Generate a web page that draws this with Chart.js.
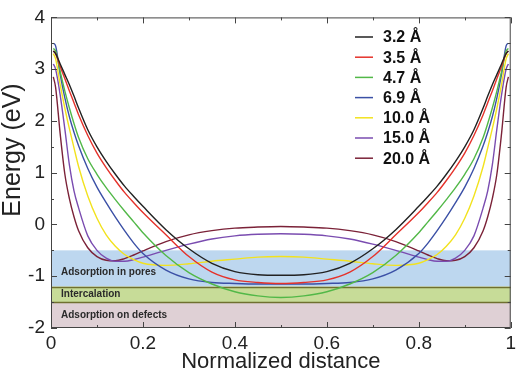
<!DOCTYPE html>
<html>
<head>
<meta charset="utf-8">
<script src="https://cdn.jsdelivr.net/npm/chart.js@4"></script>
<style>
  html, body { margin: 0; padding: 0; background: #fff; }
  #wrap { width: 520px; height: 373px; }
</style>
</head>
<body>
<div id="wrap"><canvas id="energia"></canvas></div>
<script>
// posiciones normalizadas
const xs = [0.005, 0.01, 0.02, 0.03, 0.04, 0.05, 0.06, 0.08, 0.10, 0.12, 0.14, 0.16, 0.18, 0.20, 0.25, 0.30, 0.35, 0.40, 0.45, 0.50,
            0.55, 0.60, 0.65, 0.70, 0.75, 0.80, 0.82, 0.84, 0.86, 0.88, 0.90, 0.92, 0.94, 0.95, 0.96, 0.97, 0.98, 0.99, 0.995];

const etiquetas = ['3.2 Å', '3.5 Å', '4.7 Å', '6.9 Å', '10.0 Å', '15.0 Å', '20.0 Å'];

const e32 = [3.35, 3.3, 3.1, 2.9, 2.7, 2.48, 2.25, 1.83, 1.5, 1.22, 0.97, 0.74, 0.54, 0.35, -0.1, -0.47, -0.75, -0.91, -0.97, -0.98,
             -0.97, -0.91, -0.75, -0.47, -0.1, 0.35, 0.54, 0.74, 0.97, 1.22, 1.5, 1.83, 2.25, 2.48, 2.7, 2.9, 3.1, 3.3, 3.35];
const e35 = [3.35, 3.3, 3.05, 2.82, 2.58, 2.35, 2.12, 1.72, 1.38, 1.1, 0.85, 0.62, 0.42, 0.23, -0.2, -0.62, -0.92, -1.07, -1.12, -1.14,
             -1.12, -1.07, -0.92, -0.62, -0.2, 0.23, 0.42, 0.62, 0.85, 1.1, 1.38, 1.72, 2.12, 2.35, 2.58, 2.82, 3.05, 3.3, 3.35];
const e47 = [3.4, 3.35, 2.95, 2.58, 2.25, 1.95, 1.68, 1.27, 0.97, 0.71, 0.48, 0.26, 0.05, -0.16, -0.6, -0.93, -1.15, -1.3, -1.38, -1.41,
             -1.38, -1.3, -1.15, -0.93, -0.6, -0.16, 0.05, 0.26, 0.48, 0.71, 0.97, 1.27, 1.68, 1.95, 2.25, 2.58, 2.95, 3.35, 3.4];
const e69 = [3.5, 3.45, 2.9, 2.45, 2.08, 1.78, 1.52, 1.08, 0.72, 0.42, 0.14, -0.12, -0.36, -0.56, -0.88, -1.05, -1.12, -1.14, -1.15, -1.15,
             -1.15, -1.14, -1.12, -1.05, -0.88, -0.56, -0.36, -0.12, 0.14, 0.42, 0.72, 1.08, 1.52, 1.78, 2.08, 2.45, 2.9, 3.45, 3.5];
const e100 = [3.3, 3.2, 2.7, 2.25, 1.85, 1.48, 1.12, 0.55, 0.12, -0.2, -0.42, -0.58, -0.68, -0.75, -0.79, -0.76, -0.71, -0.67, -0.63, -0.62,
              -0.63, -0.67, -0.71, -0.76, -0.79, -0.75, -0.68, -0.58, -0.42, -0.2, 0.12, 0.55, 1.12, 1.48, 1.85, 2.25, 2.7, 3.2, 3.3];
const e150 = [3.1, 3.0, 2.5, 1.85, 1.15, 0.65, 0.32, -0.22, -0.5, -0.65, -0.71, -0.71, -0.68, -0.63, -0.5, -0.38, -0.28, -0.22, -0.19, -0.18,
              -0.19, -0.22, -0.28, -0.38, -0.5, -0.63, -0.68, -0.71, -0.71, -0.65, -0.5, -0.22, 0.32, 0.65, 1.15, 1.85, 2.5, 3.0, 3.1];
const e200 = [2.85, 2.65, 1.75, 0.98, 0.5, 0.15, -0.12, -0.45, -0.62, -0.69, -0.7, -0.66, -0.59, -0.51, -0.33, -0.2, -0.12, -0.07, -0.05, -0.04,
              -0.05, -0.07, -0.12, -0.2, -0.33, -0.51, -0.59, -0.66, -0.7, -0.69, -0.62, -0.45, -0.12, 0.15, 0.5, 0.98, 1.75, 2.65, 2.85];

const colores = ['#222222', '#e5322b', '#52b848', '#3b50a6', '#f2e21e', '#7a4cb0', '#7b2238'];

// bandas de energía
const bandas = ['Adsorption in pores', 'Intercalation', 'Adsorption on defects'];
const bandaArriba = [-0.5, -1.2, -1.5];
const bandaAbajo = [-1.2, -1.5, -2];

const xTicks = [0, 0.2, 0.4, 0.6, 0.8, 1];
const yTicks = [-2, -1, 0, 1, 2, 3, 4];

const series = [e32, e35, e47, e69, e100, e150, e200];

const fuente = '"Liberation Sans", Arial, sans-serif';

const fondoBandas = {
  id: 'fondoBandas',
  beforeDatasetsDraw(chart) {
    const { ctx, chartArea, scales } = chart;
    const fills = ['#bdd7ef', '#c7dc98', '#dfd0d5'];
    ctx.save();
    bandas.forEach((b, i) => {
      const y1 = scales.y.getPixelForValue(bandaArriba[i]);
      const y2 = scales.y.getPixelForValue(bandaAbajo[i]);
      ctx.fillStyle = fills[i];
      ctx.fillRect(chartArea.left, y1, chartArea.right - chartArea.left, y2 - y1);
    });
    // lineas de la banda de intercalacion
    ctx.strokeStyle = '#6f7030';
    ctx.lineWidth = 1.5;
    [bandaArriba[1], bandaAbajo[1]].forEach(v => {
      const y = Math.round(scales.y.getPixelForValue(v)) + 0.5;
      ctx.beginPath();
      ctx.moveTo(chartArea.left, y);
      ctx.lineTo(chartArea.right, y);
      ctx.stroke();
    });
    ctx.fillStyle = '#2a2a2a';
    ctx.font = 'bold 10px ' + fuente;
    ctx.textBaseline = 'middle';
    bandas.forEach((b, i) => {
      let y;
      if (i === 0) y = scales.y.getPixelForValue(-0.93);
      else y = (scales.y.getPixelForValue(bandaArriba[i]) + scales.y.getPixelForValue(bandaAbajo[i])) / 2;
      ctx.fillText(b, chartArea.left + 10, y);
    });
    ctx.restore();
  },
  afterDraw(chart) {
    const { ctx, chartArea, scales } = chart;
    const { left, right, top, bottom } = chartArea;
    ctx.save();
    ctx.strokeStyle = '#444';
    ctx.lineWidth = 1;
    ctx.strokeRect(left + 0.5, top + 0.5, right - left - 1, bottom - top - 1);
    // marcas hacia dentro
    for (let k = 0; k <= 10; k++) {
      const px = Math.round(scales.x.getPixelForValue(k / 10)) + 0.5;
      const len = k % 2 === 0 ? 6 : 3;
      ctx.beginPath();
      ctx.moveTo(px, bottom); ctx.lineTo(px, bottom - len);
      ctx.moveTo(px, top); ctx.lineTo(px, top + len);
      ctx.stroke();
    }
    for (let k = -4; k <= 8; k++) {
      const py = Math.round(scales.y.getPixelForValue(k / 2)) + 0.5;
      const len = k % 2 === 0 ? 6 : 3;
      ctx.beginPath();
      ctx.moveTo(left, py); ctx.lineTo(left + len, py);
      ctx.moveTo(right, py); ctx.lineTo(right - len, py);
      ctx.stroke();
    }
    // titulo del eje y
    ctx.fillStyle = '#222';
    ctx.font = '25px ' + fuente;
    ctx.textAlign = 'center';
    ctx.textBaseline = 'middle';
    ctx.translate(13, 150);
    ctx.rotate(-Math.PI / 2);
    ctx.fillText('Energy (eV)', 0, 0);
    ctx.setTransform(1, 0, 0, 1, 0, 0);
    // leyenda
    ctx.textAlign = 'left';
    ctx.font = 'bold 16px ' + fuente;
    etiquetas.forEach((t, i) => {
      const y = 37 + i * 20.2;
      ctx.strokeStyle = colores[i];
      ctx.lineWidth = 1.5;
      ctx.beginPath();
      ctx.moveTo(355, y); ctx.lineTo(373, y);
      ctx.stroke();
      ctx.fillStyle = '#111';
      ctx.fillText(t, 383, y + 1);
    });
    ctx.restore();
  }
};

new Chart(document.getElementById('energia'), {
  type: 'line',
  data: {
    datasets: series.map((s, i) => ({
      label: etiquetas[i],
      data: xs.map((x, j) => ({ x: x, y: s[j] })),
      borderColor: colores[i],
      borderWidth: 1.4,
      pointRadius: 0,
      fill: false,
      cubicInterpolationMode: 'monotone'
    }))
  },
  options: {
    responsive: true,
    maintainAspectRatio: false,
    animation: false,
    layout: { padding: { top: 10, right: 8, left: 0, bottom: 0 } },
    plugins: { legend: { display: false }, tooltip: { enabled: false } },
    scales: {
      x: {
        type: 'linear', min: 0, max: 1,
        afterBuildTicks: s => { s.ticks = xTicks.map(v => ({ value: v })); },
        afterFit: s => { s.height = 45; },
        grid: { display: false, drawTicks: false },
        border: { display: false },
        ticks: {
          color: '#222', padding: 4,
          font: { family: fuente, size: 19 },
          maxRotation: 0,
          callback: v => String(v)
        },
        title: {
          display: true, text: 'Normalized distance', color: '#222',
          font: { family: fuente, size: 22 },
          padding: { top: 0, bottom: -2 }
        }
      },
      y: {
        type: 'linear', min: -2, max: 4,
        afterBuildTicks: s => { s.ticks = yTicks.map(v => ({ value: v })); },
        afterFit: s => { s.width = 51; },
        grid: { display: false, drawTicks: false },
        border: { display: false },
        ticks: {
          color: '#222', padding: 6,
          font: { family: fuente, size: 19 },
          callback: v => String(v)
        },
        title: { display: false }
      }
    }
  },
  plugins: [fondoBandas]
});
</script>
</body>
</html>
